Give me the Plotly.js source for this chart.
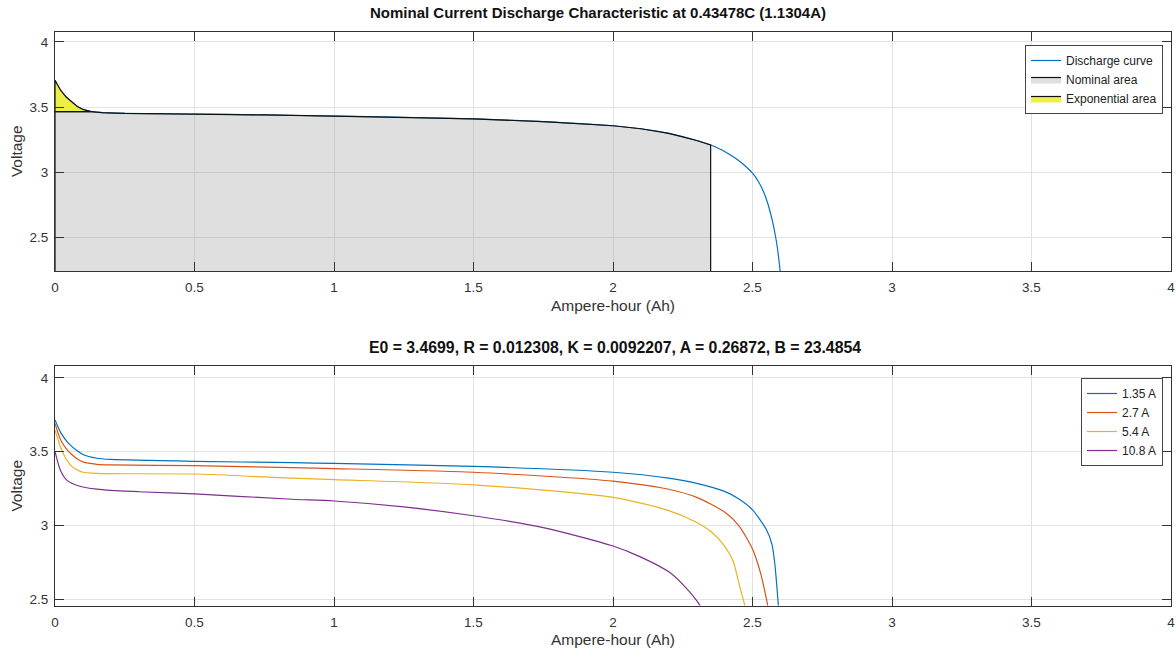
<!DOCTYPE html>
<html>
<head>
<meta charset="utf-8">
<script src="https://cdn.plot.ly/plotly-3.0.1.min.js"></script>
<style>html,body{margin:0;padding:0;background:#fff;}#chart{width:1176px;height:654px;}</style>
</head>
<body>
<div id="chart"></div>
<script>
// ---- Top chart: nominal discharge characteristic ----
const ahTop = [0, 0.01, 0.02, 0.04, 0.06, 0.08, 0.10, 0.13, 0.17, 0.25, 0.5, 0.75, 1.0, 1.25, 1.5, 1.75, 2.0, 2.1, 2.2, 2.3, 2.35, 2.375, 2.4, 2.425, 2.45, 2.475, 2.5, 2.52, 2.54, 2.555, 2.57, 2.58, 2.59, 2.6];
const vTop  = [3.707, 3.665, 3.630, 3.578, 3.538, 3.505, 3.483, 3.466, 3.458, 3.452, 3.448, 3.441, 3.432, 3.423, 3.410, 3.390, 3.358, 3.335, 3.300, 3.245, 3.210, 3.187, 3.160, 3.128, 3.092, 3.048, 2.995, 2.935, 2.850, 2.760, 2.640, 2.540, 2.410, 2.230];
const expEndAh = 0.13;      // end of exponential zone
const expVolt = 3.466;      // voltage at end of exponential zone
const nomEndAh = 2.35;      // end of nominal zone
const topLegend = ["Discharge curve", "Nominal area", "Exponential area"];

// ---- Bottom chart: discharge at several currents ----
const seriesNames = ["1.35 A", "2.7 A", "5.4 A", "10.8 A"];
const ah135 = [0, 0.02, 0.04, 0.06, 0.08, 0.1, 0.15, 0.2, 0.5, 0.85, 1.0, 1.5, 2.0, 2.2, 2.3, 2.4, 2.45, 2.5, 2.55, 2.57, 2.58, 2.595];
const v135  = [3.714, 3.63, 3.575, 3.535, 3.505, 3.48, 3.455, 3.447, 3.434, 3.425, 3.42, 3.40, 3.36, 3.32, 3.285, 3.23, 3.18, 3.105, 2.97, 2.87, 2.74, 2.40];
const ah27  = [0, 0.02, 0.04, 0.06, 0.08, 0.1, 0.15, 0.2, 0.5, 0.85, 1.0, 1.5, 2.0, 2.2, 2.3, 2.4, 2.45, 2.5, 2.53, 2.55, 2.565];
const v27   = [3.69, 3.58, 3.52, 3.48, 3.45, 3.43, 3.414, 3.41, 3.405, 3.391, 3.385, 3.36, 3.30, 3.245, 3.19, 3.09, 3.00, 2.84, 2.67, 2.50, 2.35];
const ah54  = [0, 0.02, 0.04, 0.06, 0.08, 0.1, 0.15, 0.2, 0.5, 0.85, 1.0, 1.5, 2.0, 2.2, 2.3, 2.35, 2.4, 2.43, 2.455, 2.475, 2.485];
const v54   = [3.646, 3.53, 3.45, 3.40, 3.375, 3.36, 3.352, 3.35, 3.348, 3.32, 3.31, 3.275, 3.19, 3.10, 3.02, 2.96, 2.86, 2.76, 2.58, 2.44, 2.35];
const ah108 = [0, 0.02, 0.04, 0.06, 0.08, 0.1, 0.15, 0.2, 0.3, 0.5, 0.85, 1.0, 1.25, 1.5, 1.75, 2.0, 2.1, 2.2, 2.25, 2.3, 2.33];
const v108  = [3.50, 3.37, 3.31, 3.285, 3.27, 3.26, 3.245, 3.237, 3.228, 3.213, 3.177, 3.165, 3.125, 3.065, 2.985, 2.86, 2.785, 2.685, 2.60, 2.49, 2.40];
const seriesColors = ["#0072BD", "#D95319", "#EDB120", "#7E2F8E"];

const xTicks = [0, 0.5, 1, 1.5, 2, 2.5, 3, 3.5, 4];
const yTicks = [2.5, 3, 3.5, 4];
const topTitle = "Nominal Current Discharge Characteristic at 0.43478C (1.1304A)";
const bottomTitle = "E0 = 3.4699, R = 0.012308, K = 0.0092207, A = 0.26872, B = 23.4854";
const xTitle = "Ampere-hour (Ah)";
const yTitle = "Voltage";

// ---- build area polygons from the curve ----
const topYMin = 2.245, topYMax = 4.08;
const expX = [], expY = [];
ahTop.forEach((x, i) => { if (x <= expEndAh) { expX.push(x); expY.push(vTop[i]); } });
expX.push(0); expY.push(expVolt); expX.push(expX[0]); expY.push(expY[0]);

const nomX = [0, 0], nomY = [topYMin - 0.5, expVolt];
ahTop.forEach((x, i) => { if (x >= expEndAh && x <= nomEndAh) { nomX.push(x); nomY.push(vTop[i]); } });
nomX.push(nomEndAh); nomY.push(topYMin - 0.5);
nomX.push(0); nomY.push(topYMin - 0.5);

const FONT = "Liberation Sans, Arial, Helvetica, sans-serif";
const axisCol = "#333333";
const gridCol = "#e2e2e2";

const traces = [
  {x: ahTop, y: vTop, type: "scatter", mode: "lines", name: topLegend[0],
   line: {color: "#0072BD", width: 1.2, shape: "spline", smoothing: 0.6}, xaxis: "x", yaxis: "y", legend: "legend"},
  {x: nomX, y: nomY, type: "scatter", mode: "lines", name: topLegend[1], fill: "toself",
   fillcolor: "rgba(120,120,120,0.24)", line: {color: "#111", width: 1.2}, xaxis: "x", yaxis: "y", legend: "legend"},
  {x: expX, y: expY, type: "scatter", mode: "lines", name: topLegend[2], fill: "toself",
   fillcolor: "rgba(235,235,40,0.85)", line: {color: "#111", width: 1.2}, xaxis: "x", yaxis: "y", legend: "legend"}
];
const bx = [ah135, ah27, ah54, ah108], by = [v135, v27, v54, v108];
seriesNames.forEach((n, i) => {
  traces.push({x: bx[i], y: by[i], type: "scatter", mode: "lines", name: n,
    line: {color: seriesColors[i], width: 1.2, shape: "spline", smoothing: 0.7},
    xaxis: "x2", yaxis: "y2", legend: "legend2"});
});

function xAxis(anchor) {
  return {domain: [0, 1], anchor: anchor, range: [0, 4], tickvals: xTicks, ticks: "inside", ticklen: 9,
    tickcolor: axisCol, showline: true, linecolor: axisCol, linewidth: 1, mirror: "ticks",
    showgrid: true, gridcolor: gridCol, zeroline: false, fixedrange: true,
    ticklabeloverflow: "allow", ticklabelstandoff: 4,
    tickfont: {family: FONT, size: 13.5, color: "#333"},
    title: {text: xTitle, font: {family: FONT, size: 15.5, color: "#333"}, standoff: 5}};
}
function yAxis(dom, anchor, rng) {
  return {domain: dom, anchor: anchor, range: rng, tickvals: yTicks, ticks: "inside", ticklen: 9,
    tickcolor: axisCol, showline: true, linecolor: axisCol, linewidth: 1, mirror: "ticks",
    showgrid: true, gridcolor: gridCol, zeroline: false, fixedrange: true,
    ticklabeloverflow: "allow", ticklabelstandoff: 3,
    tickfont: {family: FONT, size: 13.5, color: "#333"},
    title: {text: yTitle, font: {family: FONT, size: 15.5, color: "#333"}, standoff: 3}};
}

const H = 654, L = 55, R = 5, PW = 1176 - L - R;
const layout = {
  width: 1176, height: 654, paper_bgcolor: "#fff", plot_bgcolor: "#fff",
  margin: {l: L, r: R, t: 0, b: 0},
  font: {family: FONT, color: "#333"},
  xaxis: xAxis("y"),
  yaxis: yAxis([(H - 271) / H, (H - 31.5) / H], "x", [topYMin, topYMax]),
  xaxis2: xAxis("y2"),
  yaxis2: yAxis([(H - 605.5) / H, (H - 366) / H], "x2", [2.457, 4.08]),
  legend: {x: (1163 - L) / PW, xanchor: "right", y: (H - 45) / H, yanchor: "top",
    bgcolor: "#fff", bordercolor: "#444", borderwidth: 1, itemwidth: 30,
    font: {family: FONT, size: 12, color: "#222"}, tracegroupgap: 0},
  legend2: {x: (1163 - L) / PW, xanchor: "right", y: (H - 378) / H, yanchor: "top",
    bgcolor: "#fff", bordercolor: "#444", borderwidth: 1, itemwidth: 30,
    font: {family: FONT, size: 12, color: "#222"}, tracegroupgap: 0},
  annotations: [
    {text: "<b>" + topTitle + "</b>", xref: "paper", yref: "paper", x: (598 - L) / PW, y: (H - 13) / H,
     xanchor: "center", yanchor: "middle", showarrow: false, font: {family: FONT, size: 15, color: "#111"}},
    {text: "<b>" + bottomTitle + "</b>", xref: "paper", yref: "paper", x: (615 - L) / PW, y: (H - 347) / H,
     xanchor: "center", yanchor: "middle", showarrow: false, font: {family: FONT, size: 15.8, color: "#111"}}
  ],
  showlegend: true
};
Plotly.newPlot("chart", traces, layout, {displayModeBar: false, staticPlot: true});
</script>
</body>
</html>
